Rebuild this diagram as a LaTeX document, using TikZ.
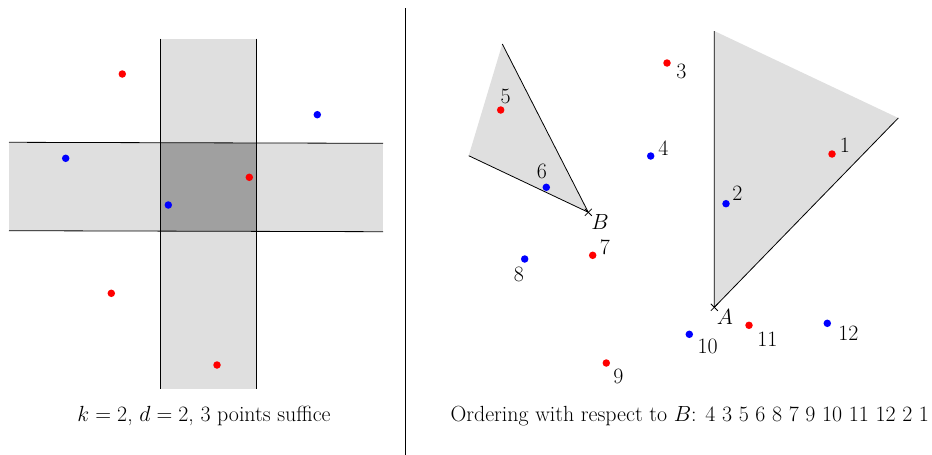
\documentclass[tikz,border=0pt]{standalone}
\usepackage{fix-cm}
\usetikzlibrary{calc}
\begin{document}
\begin{tikzpicture}[x=1pt,y=-1pt,
  font=\fontsize{21.9}{26}\selectfont,
  edge/.style={line width=0.8pt,black},
  rdot/.style={circle,fill=red,inner sep=0pt,minimum size=7.5pt},
  bdot/.style={circle,fill=blue,inner sep=0pt,minimum size=7.5pt},
  lab/.style={inner sep=0pt},
]
\definecolor{lgray}{HTML}{DFDFDF}
\definecolor{dgray}{HTML}{A0A0A0}
\useasboundingbox (0,0) rectangle (932,455);

% ---------- left panel ----------
\fill[lgray] (160.3,38.7) rectangle (256.3,389.3);
\fill[lgray] (9,142.5) rectangle (383,231);
\fill[dgray] (160.3,142.5) rectangle (256.3,231);
\draw[edge] (160.3,38.7) -- (160.3,389.3);
\draw[edge] (256.3,38.7) -- (256.3,389.3);
\draw[edge] (9,142.3) -- (383,143.3);
\draw[edge] (9,230.7) -- (383,231.7);

\node[rdot] (l1) at (122.3,74) {};
\node[bdot] (l2) at (317.3,114.7) {};
\node[bdot] (l3) at (65.7,158.3) {};
\node[rdot] (l4) at (249.3,177.3) {};
\node[bdot] (l5) at (168.3,205) {};
\node[rdot] (l6) at (111.3,293.3) {};
\node[rdot] (l7) at (217,365) {};

\node[lab] (capL) at (204,416) {$k=2$, $d=2$, $3$ points suffice};

% divider
\coordinate (dtop) at (405,8);
\coordinate (dbot) at (405,455);
\draw[edge] (dtop) -- (dbot);

% ---------- right panel ----------
\coordinate (B) at (588.3,212.3);
\coordinate (Bt) at (502.3,44);
\coordinate (Bl) at (468.7,155.7);
\fill[lgray] (B) -- (Bt) -- (Bl) -- cycle;
\draw[edge] (Bt) -- (B) -- (Bl);
\draw[edge] ($(B)+(-3.5,-3.5)$) -- ($(B)+(3.5,3.5)$);
\draw[edge] ($(B)+(-3.5,3.5)$) -- ($(B)+(3.5,-3.5)$);
\node[lab] (labB) at (600,221.7) {$B$};

\coordinate (A) at (714.3,307.3);
\coordinate (At) at (714.3,31);
\coordinate (Ar) at (898.3,118);
\fill[lgray] (A) -- (At) -- (Ar) -- cycle;
\draw[edge] (At) -- (A) -- (Ar);
\draw[edge] ($(A)+(-3.5,-3.5)$) -- ($(A)+(3.5,3.5)$);
\draw[edge] ($(A)+(-3.5,3.5)$) -- ($(A)+(3.5,-3.5)$);
\node[lab] (labA) at (725,317.3) {$A$};

\node[rdot] (p1) at (832,154) {};
\node[lab] at (845,145.7) {1};
\node[bdot] (p2) at (726,203.7) {};
\node[lab] at (737.3,193.3) {2};
\node[rdot] (p3) at (667,63) {};
\node[lab] at (681.3,71.7) {3};
\node[bdot] (p4) at (650.7,156) {};
\node[lab] at (663.3,147.7) {4};
\node[rdot] (p5) at (500.7,110) {};
\node[lab] at (505.7,96.7) {5};
\node[bdot] (p6) at (546.3,187.3) {};
\node[lab] at (542,171.7) {6};
\node[rdot] (p7) at (592.7,255.3) {};
\node[lab] at (605,247.3) {7};
\node[bdot] (p8) at (524.7,259) {};
\node[lab] at (519,274.3) {8};
\node[rdot] (p9) at (606.3,363) {};
\node[lab] at (618.3,376) {9};
\node[bdot] (p10) at (689.3,334.3) {};
\node[lab] at (707.7,346.7) {10};
\node[rdot] (p11) at (749,325.3) {};
\node[lab] at (767.3,339.3) {11};
\node[bdot] (p12) at (827.3,323.3) {};
\node[lab] at (848.3,333.3) {12};

\node[lab] (capR) at (689.8,416) {Ordering with respect to $B$: 4 3 5 6 8 7 9 10 11 12 2 1};
\end{tikzpicture}
\end{document}
